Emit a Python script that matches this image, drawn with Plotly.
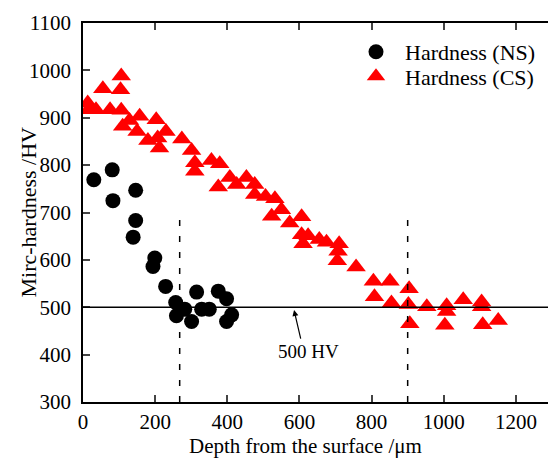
import plotly.graph_objects as go

# Hardness (NS) - black circles
ns_depth = [30, 81, 83, 146, 146, 139, 199, 194, 229, 257, 259, 282, 301, 315, 329, 350, 375, 398, 412, 398]
ns_hv = [769, 790, 725, 747, 683, 648, 604, 586, 544, 510, 482, 496, 470, 532, 496, 496, 534, 518, 484, 470]

# Hardness (CS) - red triangles
cs_depth = [13, 15, 36, 55, 75, 104, 106, 106, 110, 129, 150, 157, 180, 203, 207, 212, 230, 274,
            301, 310, 310, 356, 375, 379, 407, 426, 453, 476, 476, 506, 523, 532, 550, 573, 606,
            606, 610, 624, 655, 675, 705, 707, 710, 757, 805, 808, 851, 855, 902, 904, 906, 953,
            1003, 1008, 1008, 1054, 1105, 1105, 1108, 1151]
cs_hv = [931, 917, 917, 961, 917, 959, 988, 916, 882, 894, 871, 903, 852, 896, 857, 836, 871, 855,
         831, 805, 787, 810, 754, 803, 774, 759, 774, 759, 738, 734, 692, 729, 706, 678, 691,
         653, 634, 651, 643, 637, 598, 618, 634, 585, 555, 522, 555, 509, 506, 539, 465, 501,
         462, 503, 491, 516, 511, 501, 463, 472]

x_ticks = [0, 200, 400, 600, 800, 1000, 1200]
y_ticks = [300, 400, 500, 600, 700, 800, 900, 1000, 1100]
ref_hv = 500
boundaries = [268, 900]
dash_top = 687

FONT = "Liberation Serif, Times New Roman, serif"
L, T, B, W, H = 83, 23, 57, 548, 459
PW = W - L
PH = H - T - B

fig = go.Figure()
fig.add_trace(go.Scatter(x=ns_depth, y=ns_hv, mode="markers", name="Hardness (NS)",
                         legend="legend",
                         marker=dict(symbol="circle", size=15, color="black")))
fig.add_trace(go.Scatter(x=cs_depth, y=cs_hv, mode="markers", name="Hardness (CS)",
                         legend="legend2",
                         marker=dict(symbol="triangle-up", size=17, color="#ff0000")))

fig.add_shape(type="line", xref="paper", x0=0, x1=1, yref="y", y0=ref_hv, y1=ref_hv,
              line=dict(color="black", width=1.5), layer="above")
for b in boundaries:
    fig.add_shape(type="line", xref="x", x0=b, x1=b, yref="y", y0=300, y1=dash_top,
                  line=dict(color="black", width=1.5, dash="6px,10px"), layer="above")

fig.add_annotation(x=585, y=494, ax=7, ay=30, text="", showarrow=True,
                   arrowhead=2, arrowsize=1, arrowwidth=1.2, arrowcolor="black")
fig.add_annotation(x=625, y=406, text="500 HV", showarrow=False,
                   xanchor="center", yanchor="middle",
                   font=dict(family=FONT, size=19, color="black"))

fig.add_annotation(xref="paper", yref="paper", x=(305 - L) / PW, y=-(446 - (H - B)) / PH,
                   xanchor="center", yanchor="middle",
                   text="Depth from the surface /\u03bcm", showarrow=False,
                   font=dict(family=FONT, size=21, color="black"))
fig.add_annotation(xref="paper", yref="paper", x=-(L - 28) / PW, y=0.5,
                   xanchor="center", yanchor="middle",
                   text="Mirc-hardness /HV", textangle=-90, showarrow=False,
                   font=dict(family=FONT, size=22, color="black"))

leg_common = dict(xanchor="left", yanchor="top", bgcolor="rgba(0,0,0,0)", itemwidth=48,
                  font=dict(family=FONT, size=22, color="black"))
fig.update_layout(
    width=W, height=H,
    margin=dict(l=L, r=0, t=T, b=B, autoexpand=False),
    plot_bgcolor="white", paper_bgcolor="white",
    font=dict(family=FONT, size=21, color="black"),
    showlegend=True,
    legend=dict(x=(347 - L) / PW, y=1 - (31 - T) / PH, **leg_common),
    legend2=dict(x=(347 - L) / PW, y=1 - (55.5 - T) / PH, **leg_common),
    xaxis=dict(range=[0, 1289], tickvals=x_ticks, ticks="inside", ticklen=7, tickwidth=1.5,
               showline=True, linecolor="black", linewidth=1.5, mirror="ticks",
               showgrid=False, zeroline=False, ticklabelstandoff=0),
    yaxis=dict(range=[300, 1100], tickvals=y_ticks, ticks="inside", ticklen=7, tickwidth=1.5,
               showline=True, linecolor="black", linewidth=1.5, mirror=False,
               showgrid=False, zeroline=False, ticklabelstandoff=6),
)

fig.write_html("out.html")
